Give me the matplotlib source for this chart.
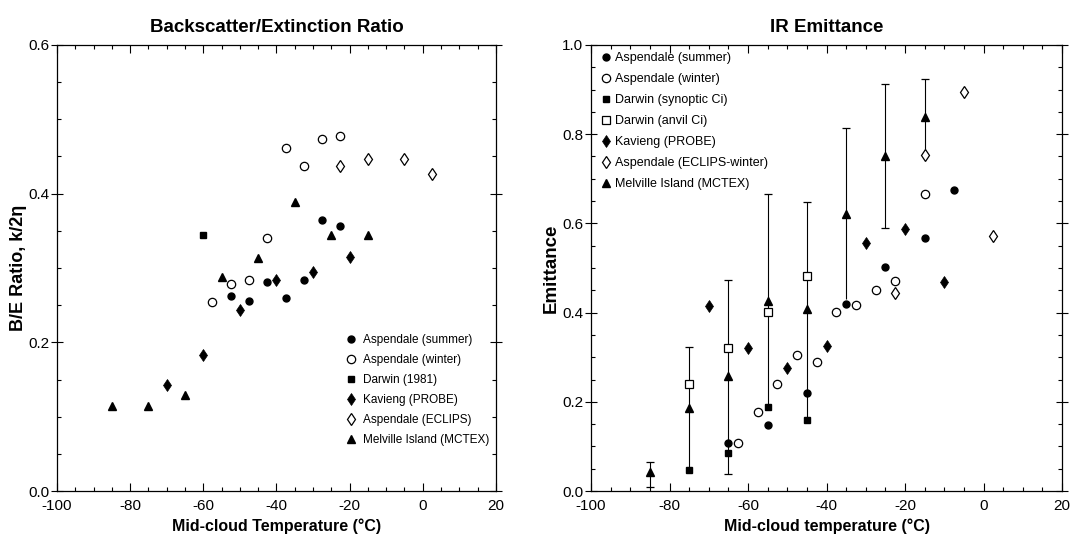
import matplotlib
matplotlib.use("Agg")
import matplotlib.pyplot as plt
from matplotlib import font_manager
from matplotlib.ticker import MultipleLocator

# narrow sans if one is installed, else the plain one
installed = {f.name for f in font_manager.fontManager.ttflist}
families = [n for n in ['Liberation Sans Narrow', 'DejaVu Sans Condensed', 'Liberation Sans']
            if n in installed] + ['DejaVu Sans']
plt.rcParams['font.family'] = families
plt.rcParams['axes.unicode_minus'] = False

# ---- left panel: backscatter / extinction ratio ----
be_summer_t = [-52.5, -47.5, -42.5, -37.5, -32.5, -27.5, -22.5]
be_summer_v = [0.263, 0.255, 0.281, 0.259, 0.284, 0.365, 0.356]
be_winter_t = [-57.5, -52.5, -47.5, -42.5, -37.5, -32.5, -27.5, -22.5]
be_winter_v = [0.254, 0.279, 0.284, 0.340, 0.462, 0.437, 0.473, 0.478]
be_darwin_t = [-60]
be_darwin_v = [0.345]
be_kavieng_t = [-70, -60, -50, -40, -30, -20]
be_kavieng_v = [0.142, 0.183, 0.244, 0.284, 0.294, 0.315]
be_eclips_t = [-22.5, -15, -5, 2.5]
be_eclips_v = [0.437, 0.447, 0.447, 0.427]
be_mctex_t = [-85, -75, -65, -55, -45, -35, -25, -15]
be_mctex_v = [0.114, 0.114, 0.129, 0.288, 0.314, 0.389, 0.345, 0.345]

# ---- right panel: IR emittance ----
ir_summer_t = [-65, -55, -45, -35, -25, -15, -7.5]
ir_summer_v = [0.107, 0.147, 0.219, 0.420, 0.502, 0.568, 0.676]
ir_winter_t = [-62.5, -57.5, -52.5, -47.5, -42.5, -37.5, -32.5, -27.5, -22.5, -15]
ir_winter_v = [0.107, 0.178, 0.239, 0.304, 0.289, 0.401, 0.416, 0.450, 0.471, 0.667]
ir_syn_t = [-75, -65, -55, -45]
ir_syn_v = [0.048, 0.085, 0.189, 0.159]
ir_anvil_t = [-75, -65, -55, -45]
ir_anvil_v = [0.239, 0.320, 0.401, 0.482]
ir_kavieng_t = [-70, -60, -50, -40, -30, -20, -10]
ir_kavieng_v = [0.414, 0.321, 0.275, 0.326, 0.556, 0.588, 0.468]
ir_eclips_t = [-22.5, -15, -5, 2.5]
ir_eclips_v = [0.443, 0.754, 0.894, 0.572]
ir_mctex_t = [-85, -75, -65, -55, -45, -35, -25, -15]
ir_mctex_v = [0.042, 0.186, 0.258, 0.427, 0.409, 0.620, 0.752, 0.838]

# vertical range bars
bar_t = [-85, -75, -65, -55, -45, -35, -25, -15]
bar_lo = [0.010, 0.048, 0.039, 0.189, 0.159, 0.430, 0.589, 0.754]
bar_hi = [0.065, 0.323, 0.474, 0.665, 0.647, 0.813, 0.913, 0.924]
bar_lo_cap = [True, False, True, False, False, False, True, False]

fig = plt.figure(figsize=(10.73, 5.44), dpi=100)
ax1 = fig.add_axes([0.0531, 0.0974, 0.4091, 0.8199])
ax2 = fig.add_axes([0.5508, 0.0974, 0.4390, 0.8199])

k = dict(color='black', linestyle='none')
ax1.plot(be_summer_t, be_summer_v, marker='o', ms=5, label='Aspendale (summer)', **k)
ax1.plot(be_winter_t, be_winter_v, marker='o', ms=6, mfc='white', mew=0.9,
         label='Aspendale (winter)', **k)
ax1.plot(be_darwin_t, be_darwin_v, marker='s', ms=5, label='Darwin (1981)', **k)
ax1.plot(be_kavieng_t, be_kavieng_v, marker='d', ms=6, mew=0.5, label='Kavieng (PROBE)', **k)
ax1.plot(be_eclips_t, be_eclips_v, marker='d', ms=6, mfc='white', mew=0.9,
         label='Aspendale (ECLIPS)', **k)
ax1.plot(be_mctex_t, be_mctex_v, marker='^', ms=6, label='Melville Island (MCTEX)', **k)

ax2.vlines(bar_t, bar_lo, bar_hi, colors='black', linewidth=0.8)
ax2.plot(bar_t, bar_hi, marker='_', ms=6, mew=0.9, **k)
ax2.plot([t for t, c in zip(bar_t, bar_lo_cap) if c],
         [v for v, c in zip(bar_lo, bar_lo_cap) if c], marker='_', ms=6, mew=0.9, **k)

ax2.plot(ir_summer_t, ir_summer_v, marker='o', ms=5, label='Aspendale (summer)', **k)
ax2.plot(ir_winter_t, ir_winter_v, marker='o', ms=6, mfc='white', mew=0.9,
         label='Aspendale (winter)', **k)
ax2.plot(ir_syn_t, ir_syn_v, marker='s', ms=5, label='Darwin (synoptic Ci)', **k)
ax2.plot(ir_anvil_t, ir_anvil_v, marker='s', ms=5.5, mfc='white', mew=0.9,
         label='Darwin (anvil Ci)', **k)
ax2.plot(ir_kavieng_t, ir_kavieng_v, marker='d', ms=6, mew=0.5, label='Kavieng (PROBE)', **k)
ax2.plot(ir_eclips_t, ir_eclips_v, marker='d', ms=6, mfc='white', mew=0.9,
         label='Aspendale (ECLIPS-winter)', **k)
ax2.plot(ir_mctex_t, ir_mctex_v, marker='^', ms=6, label='Melville Island (MCTEX)', **k)

for ax in (ax1, ax2):
    ax.set_xlim(-100, 20)
    ax.xaxis.set_major_locator(MultipleLocator(20))
    ax.xaxis.set_minor_locator(MultipleLocator(5))
    ax.yaxis.set_minor_locator(MultipleLocator(0.05))
    ax.yaxis.set_major_locator(MultipleLocator(0.2))
    ax.yaxis.set_major_formatter(plt.FormatStrFormatter('%.1f'))
    ax.tick_params(which='both', direction='in', top=True, right=True,
                   labelsize=11, width=0.8)
    ax.tick_params(which='major', length=6)
    ax.tick_params(which='minor', length=3)
    ax.tick_params(axis='y', which='major', direction='inout', length=9, pad=1)
    ax.tick_params(axis='x', pad=6)
    for s in ax.spines.values():
        s.set_linewidth(0.9)

ax1.set_ylim(0, 0.6)
ax2.set_ylim(0, 1.0)

ax1.set_title('Backscatter/Extinction Ratio', fontsize=13.5, fontweight='bold', pad=9)
ax2.set_title('IR Emittance', fontsize=13.5, fontweight='bold', pad=9)
ax1.set_xlabel('Mid-cloud Temperature (\u00b0C)', fontsize=11.5, fontweight='bold', labelpad=4)
ax2.set_xlabel('Mid-cloud temperature (\u00b0C)', fontsize=11.5, fontweight='bold', labelpad=4)
ax1.set_ylabel('B/E Ratio, k/2\u03b7', fontsize=13, fontweight='bold', labelpad=1)
ax2.set_ylabel('Emittance', fontsize=13.5, fontweight='bold', labelpad=2)

ax1.legend(loc='upper left', bbox_to_anchor=(0.659, 0.351), frameon=False, fontsize=8.5,
           handlelength=0.8, handletextpad=0.62, labelspacing=0.67, borderpad=0,
           borderaxespad=0)
ax2.legend(loc='upper left', bbox_to_anchor=(0.022, 0.984), frameon=False, fontsize=9,
           handlelength=0.8, handletextpad=0.3, labelspacing=0.72, borderpad=0,
           borderaxespad=0)

fig.savefig('out.png', dpi=100)
